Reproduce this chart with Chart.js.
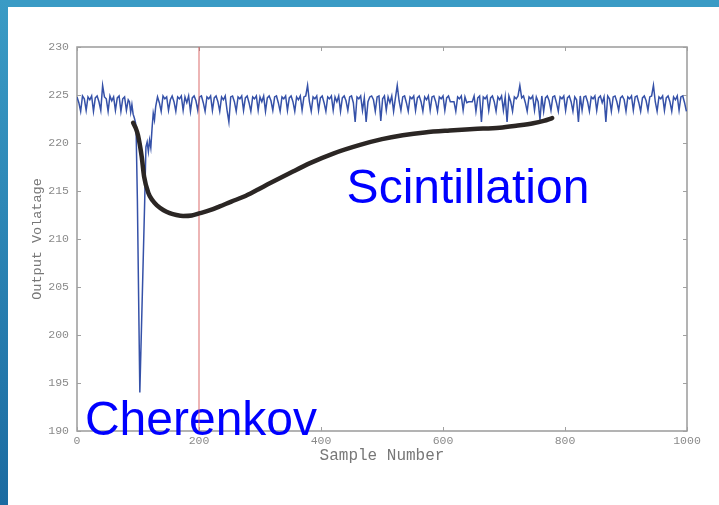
<!DOCTYPE html>
<html>
<head>
<meta charset="utf-8">
<script src="https://cdn.jsdelivr.net/npm/chart.js@4.4.1/dist/chart.umd.min.js"></script>
<style>
  html, body { margin: 0; padding: 0; background: #ffffff; }
  #wrap { position: relative; width: 719px; height: 505px; overflow: hidden; background: #fff; }
  #c { position: absolute; left: 0; top: 0; }
  #topbar { position: absolute; left: 0; top: 0; width: 719px; height: 7px; background: #3a9bc5; }
  #leftbar { position: absolute; left: 0; top: 0; width: 8px; height: 505px;
             background: linear-gradient(#3a9bc5, #1b6ba1); }
</style>
</head>
<body>
<div id="wrap">
  <canvas id="c" width="719" height="505"></canvas>
  <div id="topbar"></div>
  <div id="leftbar"></div>
</div>
<script>
// ---- data ----
const X_MIN = 0, X_MAX = 1000, Y_MIN = 190, Y_MAX = 230;
const xTickStep = 200, yTickStep = 5;
const sampleStep = 3;

// baseline before the pulse, samples 0..84
const preStart = 0;
const preValues = [224.8,224.2,223.3,224.9,224.6,223.4,224.8,224.5,224.9,223.3,224.7,224.9,224.3,223.4,226.0,
  224.8,224.6,223.3,224.9,224.4,224.8,223.4,224.7,224.9,223.3,224.6,224.8,223.4,224.5];

// pulse region
const pulseX = [86,88,90,92,94,96,97,99,101,103,107,111,113,115,117,119,121,123,125,127,129];
const pulseV = [224.3,223.2,224.0,223.0,222.6,222.1,221.0,214.0,204.0,194.0,204.0,214.0,
  219.6,220.1,219.1,220.3,219.5,221.5,223.1,222.4,223.8];

// baseline after the pulse, samples 132..999
const postStart = 132;
const postValues = [
  224.8,224.2,223.3,224.9,224.6,224.8,223.4,224.5,224.9,224.3,
  223.3,224.8,224.6,224.9,223.4,224.8,224.2,224.9,223.3,224.7,
  224.9,224.4,223.4,224.8,224.9,224.2,223.3,224.8,224.6,224.9,
  223.4,224.7,224.9,224.3,223.3,224.8,224.5,224.9,223.4,222.2,
  224.8,224.9,224.3,223.3,224.8,224.6,224.9,223.4,224.7,224.9,
  224.2,223.3,224.8,224.6,224.9,223.4,224.8,224.3,224.9,223.3,
  224.7,224.9,224.4,223.4,224.8,224.9,224.2,223.3,224.8,224.6,
  224.9,223.4,224.7,224.9,224.3,223.3,224.8,224.5,224.9,223.4,
  224.8,224.9,226.0,224.3,223.3,224.8,224.6,224.9,223.4,224.7,
  224.9,224.2,223.3,224.8,224.6,224.9,223.4,224.8,224.3,224.9,
  223.3,224.7,224.9,224.4,223.4,224.8,224.9,224.2,222.2,224.8,
  224.6,224.9,223.4,224.7,222.2,224.3,224.8,224.9,224.5,223.3,
  224.8,224.9,222.3,224.6,224.9,223.4,224.8,224.2,224.9,223.3,
  224.7,226.0,224.4,223.4,224.8,224.9,224.2,223.3,224.8,224.6,
  224.9,223.4,224.7,224.9,224.3,223.3,224.8,224.5,224.9,223.4,
  224.8,224.9,224.3,223.3,224.8,224.6,224.9,223.4,224.7,224.9,
  224.3,224.3,224.3,223.3,224.8,224.6,224.9,223.4,224.8,224.2,
  224.3,224.3,224.3,224.9,223.3,224.7,224.9,222.2,224.8,224.6,
  224.9,223.4,224.7,224.9,224.3,223.3,224.8,224.5,224.9,223.4,
  224.8,222.2,224.9,224.3,223.3,224.8,224.6,224.9,226.0,224.7,
  224.9,224.2,223.3,224.8,224.6,224.9,223.4,224.8,224.3,222.4,
  224.9,223.3,224.7,224.9,224.4,223.4,224.8,224.9,224.2,223.3,
  224.8,224.6,224.9,223.4,224.7,224.9,224.3,223.3,224.8,224.5,
  222.2,224.9,223.4,224.8,224.9,224.3,223.3,224.8,224.6,224.9,
  223.4,224.7,224.9,224.2,224.8,222.2,224.9,224.6,223.3,224.8,
  224.9,224.3,223.4,224.7,224.9,224.5,223.3,224.8,224.6,224.9,
  223.4,224.8,224.9,224.2,223.3,224.7,224.9,224.4,223.4,224.8,
  224.9,226.0,224.3,223.3,224.8,224.6,224.9,223.4,224.7,224.9,
  224.3,223.3,224.8,224.5,224.9,223.4,224.8,224.9,224.2,223.3
];

// hand-drawn scintillation envelope (black curve)
const fitX = [92,96,100,106,110,117,124,131,142,152,163,174,188,202,218,234,253,273,295,316,350,382,420,464,500,534,570,611,650,693,720,748,765,779];
const fitV = [222.1,221.6,220.8,218.6,216.5,214.8,214.0,213.5,213.0,212.7,212.5,212.4,212.45,212.7,213.0,213.4,213.9,214.4,215.1,215.8,216.9,217.9,218.9,219.8,220.4,220.8,221.1,221.3,221.45,221.6,221.8,222.05,222.3,222.6];

// red marker line
const markerX = 200;

// annotations: [text, x(sample), y(voltage)]
const labels = [
  ["Scintillation", 442, 213.75],
  ["Cherenkov", 13, 189.6]
];

// ---- build series ----
const signal = [];
preValues.forEach((v, i) => signal.push({x: preStart + i * sampleStep, y: v}));
pulseX.forEach((x, i) => signal.push({x: x, y: pulseV[i]}));
postValues.forEach((v, i) => signal.push({x: postStart + i * sampleStep, y: v}));
const fit = fitX.map((x, i) => ({x: x, y: fitV[i]}));
const marker = [{x: markerX, y: Y_MIN}, {x: markerX, y: Y_MAX}];

const monoFont = "'Liberation Mono', 'DejaVu Sans Mono', monospace";

const framePlugin = {
  id: 'frame',
  beforeDatasetsDraw(chart) {
    const {ctx, chartArea: a, scales: {x, y}} = chart;
    ctx.save();
    ctx.strokeStyle = '#9a9a9a';
    ctx.lineWidth = 1.5;
    ctx.strokeRect(a.left, a.top, a.right - a.left, a.bottom - a.top);
    ctx.lineWidth = 1;
    ctx.strokeStyle = '#a0a0a0';
    const tl = 4;
    x.ticks.forEach(t => {
      const px = Math.round(x.getPixelForValue(t.value)) + 0.5;
      ctx.beginPath();
      ctx.moveTo(px, a.bottom); ctx.lineTo(px, a.bottom - tl);
      ctx.moveTo(px, a.top); ctx.lineTo(px, a.top + tl);
      ctx.stroke();
    });
    y.ticks.forEach(t => {
      const py = Math.round(y.getPixelForValue(t.value)) + 0.5;
      ctx.beginPath();
      ctx.moveTo(a.left, py); ctx.lineTo(a.left + tl, py);
      ctx.moveTo(a.right, py); ctx.lineTo(a.right - tl, py);
      ctx.stroke();
    });
    // annotations
    ctx.fillStyle = '#0000ff';
    ctx.font = "48px 'Liberation Sans', Arial, sans-serif";
    ctx.textBaseline = 'alphabetic';
    ctx.textAlign = 'left';
    labels.forEach(([txt, lx, ly]) => {
      ctx.fillText(txt, x.getPixelForValue(lx), y.getPixelForValue(ly));
    });
    ctx.restore();
  }
};

new Chart(document.getElementById('c'), {
  type: 'scatter',
  data: {
    datasets: [
      { data: fit, showLine: true, borderColor: '#2b2624', borderWidth: 4.5,
        pointRadius: 0, cubicInterpolationMode: 'monotone', borderCapStyle: 'round' },
      { data: marker, showLine: true, borderColor: 'rgba(215,90,90,0.6)', borderWidth: 1.5,
        pointRadius: 0 },
      { data: signal, showLine: true, borderColor: '#3551a8', borderWidth: 1.5,
        pointRadius: 0, tension: 0 }
    ]
  },
  options: {
    responsive: false,
    animation: false,
    events: [],
    layout: { padding: { top: 47, right: 32, left: 0, bottom: 0 } },
    plugins: { legend: { display: false }, tooltip: { enabled: false } },
    scales: {
      x: {
        type: 'linear', min: X_MIN, max: X_MAX,
        grid: { display: false, drawTicks: false }, border: { display: false },
        ticks: { stepSize: xTickStep, padding: 3, color: '#8a8a8a',
                 font: { family: monoFont, size: 11.5 }, maxRotation: 0,
                 callback: v => String(v) },
        title: { display: true, text: 'Sample Number', color: '#777777',
                 font: { family: monoFont, size: 16 }, padding: { top: 0, bottom: 40 } },
        afterFit(s) { s.height = 74; }
      },
      y: {
        type: 'linear', min: Y_MIN, max: Y_MAX,
        grid: { display: false, drawTicks: false }, border: { display: false },
        ticks: { stepSize: yTickStep, padding: 8, color: '#8a8a8a',
                 font: { family: monoFont, size: 11.5 }, callback: v => String(v) },
        title: { display: true, text: 'Output Volatage', color: '#777777',
                 font: { family: monoFont, size: 13.5 }, padding: { top: 29, bottom: 0 } },
        afterFit(s) { s.width = 77; }
      }
    }
  },
  plugins: [framePlugin]
});
</script>
</body>
</html>
